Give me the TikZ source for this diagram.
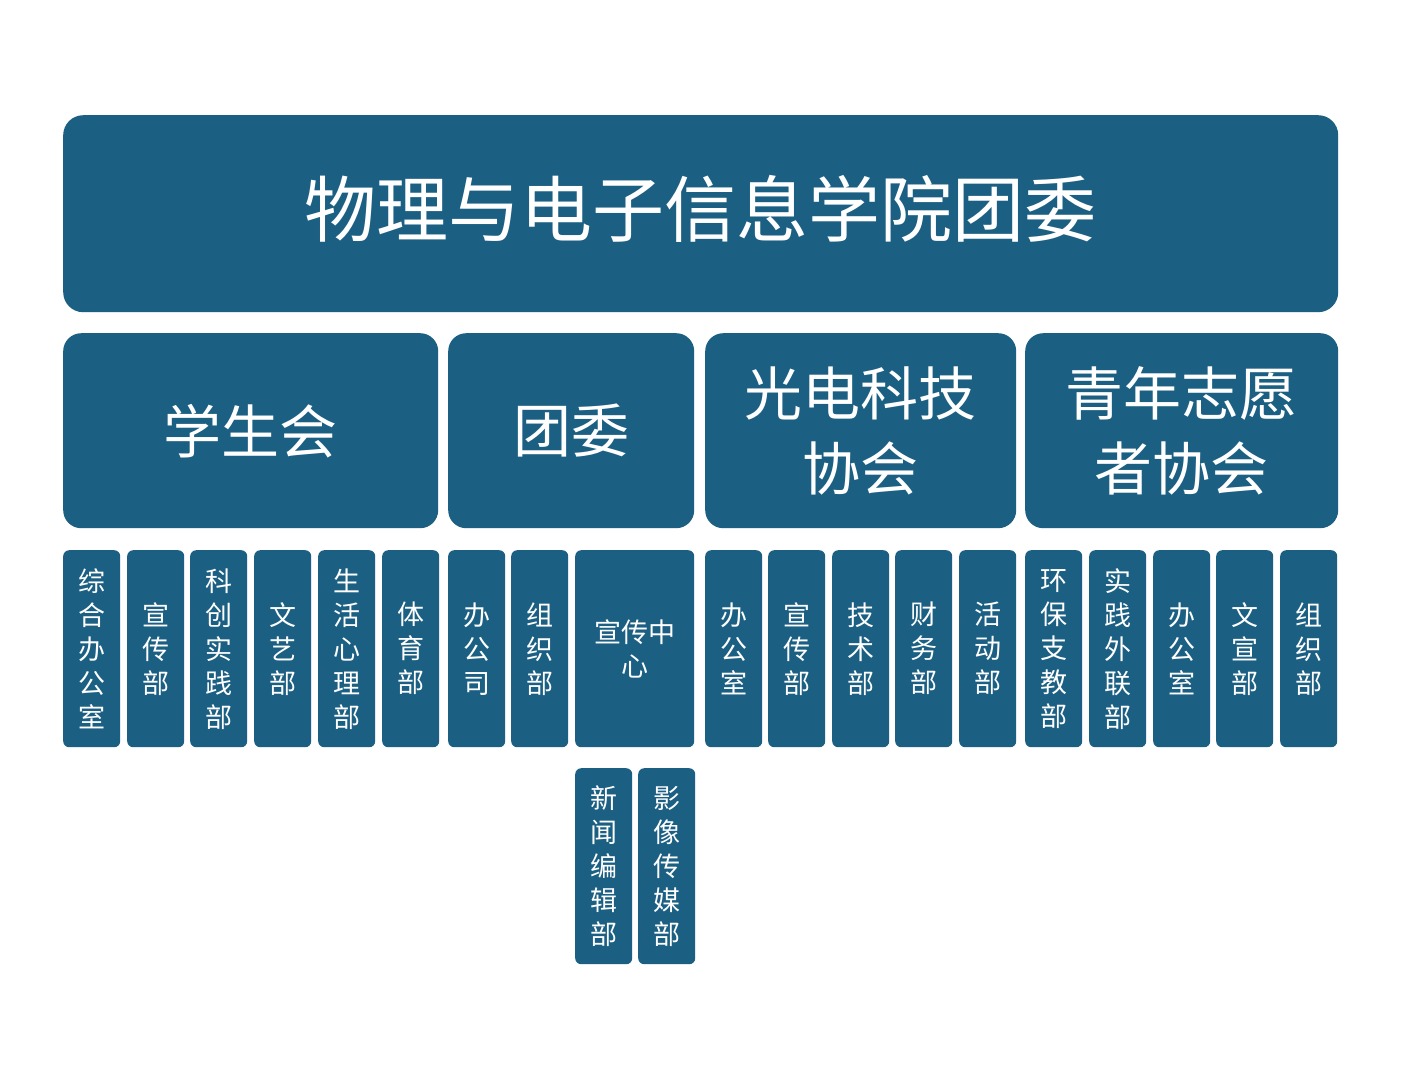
\documentclass[tikz,border=0pt]{standalone}
\usepackage{fontspec}
\newfontfamily\cjk{Noto Sans CJK SC}
\definecolor{boxblue}{RGB}{27,95,131}
\begin{document}
\begin{tikzpicture}[x=1pt,y=-1pt,
  box/.style={fill=boxblue, draw=none, text=white, anchor=north west, inner sep=0pt, align=center},
  topbox/.style={box, rounded corners=20pt, minimum width=1275pt, minimum height=197pt, font=\cjk\fontsize{72}{80}\selectfont},
  midbox/.style={box, rounded corners=18pt, minimum height=195pt, font=\cjk\fontsize{58}{75}\selectfont},
  smallbox/.style={box, rounded corners=6pt, minimum width=57pt, minimum height=197pt, font=\cjk\fontsize{27}{34}\selectfont},
  lowbox/.style={smallbox, minimum height=196pt}]
\useasboundingbox[fill=white] (0,0) rectangle (1407,1080);
\node[topbox] (top) at (63,115) {\raisebox{5pt}[\height][\depth]{物理与电子信息学院团委}};
\node[midbox, minimum width=375pt] (xsh) at (63,333) {学生会};
\node[midbox, minimum width=246pt] (tw) at (448,333) {团委};
\node[midbox, minimum width=311pt] (gd) at (705,333) {光电科技\\协会};
\node[midbox, minimum width=313pt] (qn) at (1025,333) {青年志愿\\者协会};
\node[smallbox] (s1) at (63,550) {综\\合\\办\\公\\室};
\node[smallbox] (s2) at (127,550) {宣\\传\\部};
\node[smallbox] (s3) at (190,550) {科\\创\\实\\践\\部};
\node[smallbox] (s4) at (254,550) {文\\艺\\部};
\node[smallbox] (s5) at (318,550) {生\\活\\心\\理\\部};
\node[smallbox] (s6) at (382,550) {体\\育\\部};
\node[smallbox] (t1) at (448,550) {办\\公\\司};
\node[smallbox] (t2) at (511,550) {组\\织\\部};
\node[smallbox, minimum width=119pt] (t3) at (575,550) {宣传中\\心};
\node[smallbox] (g1) at (705,550) {办\\公\\室};
\node[smallbox] (g2) at (768,550) {宣\\传\\部};
\node[smallbox] (g3) at (832,550) {技\\术\\部};
\node[smallbox] (g4) at (895,550) {财\\务\\部};
\node[smallbox] (g5) at (959,550) {活\\动\\部};
\node[smallbox] (q1) at (1025,550) {环\\保\\支\\教\\部};
\node[smallbox] (q2) at (1089,550) {实\\践\\外\\联\\部};
\node[smallbox] (q3) at (1153,550) {办\\公\\室};
\node[smallbox] (q4) at (1216,550) {文\\宣\\部};
\node[smallbox] (q5) at (1280,550) {组\\织\\部};
\node[lowbox] (u1) at (575,768) {新\\闻\\编\\辑\\部};
\node[lowbox] (u2) at (638,768) {影\\像\\传\\媒\\部};
\end{tikzpicture}
\end{document}
